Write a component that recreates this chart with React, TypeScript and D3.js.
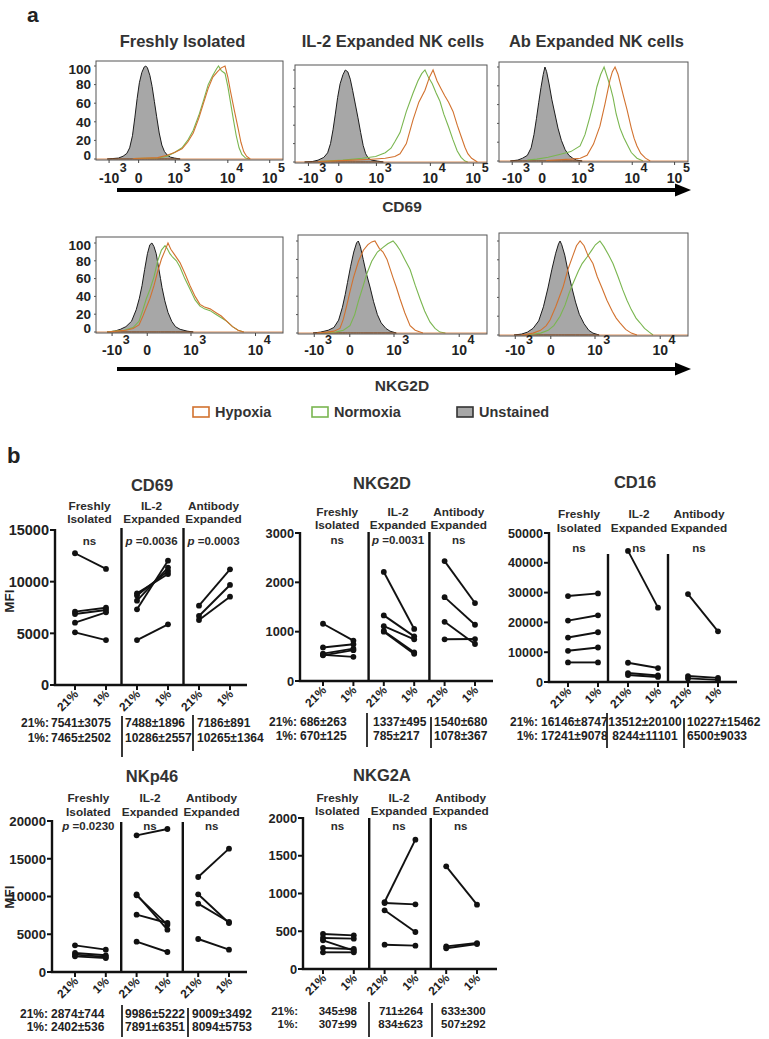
import React from 'react';
import * as d3 from 'd3';

type Pt = [number, number];
const FONT = '"Liberation Sans", Arial, Helvetica, sans-serif';

// ================= Panel a : histogram data (channel 0-1000, % of max) =================
const histColumnTitles = ['Freshly Isolated', 'IL-2 Expanded NK cells', 'Ab Expanded NK cells'];
const histRowMarkers = ['CD69', 'NKG2D'];
const histYTicks = [0, 20, 40, 60, 80, 100];
const cd69AxisBases = ['-10', '0', '10', '10', '10'];
const cd69AxisExps = ['3', '', '3', '4', '5'];
const cd69AxisChannels = [70, 228, 424, 705, 929];
const nkg2dAxisBases = ['-10', '0', '10', '10'];
const nkg2dAxisExps = ['3', '', '3', '4'];
const nkg2dAxisChannels = [86, 274, 508, 853];
const legendLabels = ['Hypoxia', 'Normoxia', 'Unstained'];

const cd69FreshUnstained: Pt[] = [[60,0],[90,0.5],[120,1],[145,3],[165,6],[180,12],[195,25],[208,45],[220,65],[232,82],[245,93],[258,99],[266,100],[275,98],[288,90],[300,78],[312,62],[324,46],[338,28],[352,15],[366,8],[382,4],[398,2],[420,1],[450,0]];
const cd69FreshNormoxia: Pt[] = [[200,0.5],[330,1],[380,3],[420,7],[460,12],[490,20],[520,31],[550,47],[575,63],[600,80],[625,90],[645,97],[655,100],[670,95],[690,92],[705,78],[720,60],[735,42],[750,25],[765,12],[780,5],[800,1],[820,0]];
const cd69FreshHypoxia: Pt[] = [[200,0.5],[330,1.5],[380,4],[420,7],[460,11],[490,18],[520,28],[550,44],[575,60],[600,76],[625,88],[650,94],[670,98],[690,100],[705,88],[720,72],[740,52],[760,33],[775,18],[790,8],[805,3],[825,0]];

const cd69Il2Unstained: Pt[] = [[50,0],[90,0.5],[120,2],[150,5],[170,10],[185,20],[198,35],[210,52],[222,70],[235,85],[250,95],[262,100],[275,98],[288,90],[300,78],[315,62],[328,48],[342,32],[355,18],[368,9],[382,4],[400,2],[430,1],[460,0]];
const cd69Il2Normoxia: Pt[] = [[120,0.5],[250,2],[350,4],[420,6],[470,10],[500,15],[520,22],[547,32],[580,55],[615,75],[640,88],[660,96],[677,100],[695,92],[715,85],[735,75],[755,66],[775,52],[800,38],[823,24],[845,12],[865,5],[885,1],[900,0]];
const cd69Il2Hypoxia: Pt[] = [[120,0.5],[300,2],[400,3],[470,4],[520,6],[547,9],[580,20],[615,46],[645,65],[677,78],[700,92],[719,100],[740,88],[760,80],[780,72],[800,65],[823,55],[845,40],[865,28],[885,16],[900,9],[920,4],[950,0]];

const cd69AbUnstained: Pt[] = [[60,0],[100,1],[125,3],[150,6],[170,14],[185,28],[198,45],[210,62],[222,78],[234,92],[243,100],[252,95],[265,82],[280,65],[296,50],[312,35],[330,22],[350,12],[370,6],[390,3],[410,1],[440,0]];
const cd69AbNormoxia: Pt[] = [[150,1],[200,2],[260,4],[320,7],[380,10],[429,16],[455,28],[481,47],[500,62],[518,79],[538,92],[556,100],[575,88],[590,78],[603,68],[620,50],[640,35],[660,25],[677,18],[700,9],[730,3],[762,0]];
const cd69AbHypoxia: Pt[] = [[250,0.5],[380,2],[430,3],[466,6],[500,18],[534,37],[560,60],[587,86],[600,95],[614,100],[630,92],[645,80],[660,68],[677,55],[700,35],[715,24],[730,16],[750,8],[775,3],[800,0]];

const nkg2dFreshUnstained: Pt[] = [[60,0],[100,1],[130,3],[160,6],[190,12],[215,25],[232,38],[246,52],[260,70],[275,88],[288,98],[299,100],[310,96],[322,88],[335,72],[345,60],[353,50],[368,35],[385,22],[405,12],[425,6],[450,3],[487,1],[520,0]];
const nkg2dFreshNormoxia: Pt[] = [[60,0],[100,1],[150,2],[198,5],[230,12],[251,25],[270,38],[289,48],[310,62],[330,80],[350,92],[369,97],[380,94],[395,88],[410,84],[430,80],[449,73],[475,60],[503,48],[530,36],[556,29],[580,26],[610,24],[640,20],[670,16],[700,12],[730,6],[760,2],[790,0]];
const nkg2dFreshHypoxia: Pt[] = [[60,0],[110,1],[160,2],[198,4],[230,8],[251,18],[270,28],[289,38],[310,52],[330,68],[350,82],[370,92],[385,100],[400,93],[420,87],[449,78],[475,66],[503,52],[530,40],[556,31],[580,28],[610,26],[640,22],[670,18],[700,12],[730,6],[760,2],[790,0]];

const nkg2dIl2Unstained: Pt[] = [[80,0],[120,1],[160,3],[190,6],[215,14],[235,28],[250,42],[262,55],[278,72],[295,88],[310,98],[319,100],[330,94],[345,80],[360,66],[381,50],[400,34],[420,20],[440,11],[465,5],[487,2],[520,0]];
const nkg2dIl2Normoxia: Pt[] = [[120,0],[200,1],[240,3],[275,8],[300,20],[320,35],[340,48],[365,65],[390,78],[420,88],[450,93],[475,97],[503,100],[520,96],[540,90],[565,80],[593,69],[620,52],[646,37],[670,24],[698,12],[725,5],[751,1],[780,0]];
const nkg2dIl2Hypoxia: Pt[] = [[100,0],[150,1],[190,2],[222,5],[240,15],[258,30],[275,45],[293,60],[320,78],[346,90],[370,96],[390,99],[407,100],[430,92],[450,88],[471,80],[490,68],[503,60],[520,50],[540,37],[565,22],[593,8],[620,3],[661,0]];

const nkg2dAbUnstained: Pt[] = [[80,0],[120,1],[150,3],[180,7],[210,15],[235,30],[259,50],[280,70],[300,87],[315,97],[323,100],[332,96],[348,85],[365,68],[386,50],[405,35],[425,22],[450,12],[475,5],[497,2],[530,0]];
const nkg2dAbNormoxia: Pt[] = [[150,0],[220,2],[260,5],[290,10],[323,20],[350,32],[370,44],[392,55],[420,68],[440,76],[466,83],[490,90],[510,96],[534,100],[555,94],[580,85],[603,76],[630,62],[655,48],[677,37],[700,27],[725,18],[746,13],[770,7],[795,3],[815,0]];
const nkg2dAbHypoxia: Pt[] = [[120,0],[180,2],[220,5],[250,10],[270,16],[300,30],[339,51],[365,70],[392,85],[410,95],[429,100],[450,95],[470,85],[497,76],[520,62],[545,50],[571,37],[600,25],[620,18],[640,13],[670,6],[700,2],[730,0]];

// ================= Panel b : paired MFI data =================
const groupTitles = [['Freshly', 'Isolated'], ['IL-2', 'Expanded'], ['Antibody', 'Expanded']];
const oxygenLabels = ['21%', '1%'];

const cd69Fresh21 = [12750, 7100, 6870, 6030, 5100];
const cd69Fresh1 = [11230, 7480, 7260, 7030, 4350];
const cd69Il2_21 = [8870, 8650, 8160, 7320, 4350];
const cd69Il2_1 = [10740, 11030, 11360, 12030, 5870];
const cd69Ab21 = [7680, 6680, 6290];
const cd69Ab1 = [11190, 9680, 8550];
const cd69P = ['ns', '0.0036', '0.0003'];
const cd69Stats21 = ['7541±3075', '7488±1896', '7186±891'];
const cd69Stats1 = ['7465±2502', '10286±2557', '10265±1364'];

const nkg2dFresh21 = [1160, 680, 555, 530, 520];
const nkg2dFresh1 = [820, 745, 655, 490, 625];
const nkg2dIl2_21 = [2210, 1330, 1110, 1015, 1000];
const nkg2dIl2_1 = [1055, 905, 845, 580, 550];
const nkg2dAb21 = [2430, 1700, 1200, 845];
const nkg2dAb1 = [1580, 1140, 750, 850];
const nkg2dP = ['ns', '0.0031', 'ns'];
const nkg2dStats21 = ['686±263', '1337±495', '1540±680'];
const nkg2dStats1 = ['670±125', '785±217', '1078±367'];

const cd16Fresh21 = [28840, 20600, 14920, 10470, 6570];
const cd16Fresh1 = [29730, 22380, 16700, 11580, 6570];
const cd16Il2_21 = [43990, 6460, 3000, 2340];
const cd16Il2_1 = [24950, 4680, 2200, 1700];
const cd16Ab21 = [29500, 2000, 1200];
const cd16Ab1 = [17000, 1400, 700];
const cd16P = ['ns', 'ns', 'ns'];
const cd16Stats21 = ['16146±8747', '13512±20100', '10227±15462'];
const cd16Stats1 = ['17241±9078', '8244±11101', '6500±9033'];

const nkp46Fresh21 = [3530, 2520, 2300, 2075];
const nkp46Fresh1 = [2960, 2210, 2000, 1850];
const nkp46Il2_21 = [18100, 10290, 10150, 7590, 4020];
const nkp46Il2_1 = [18940, 5610, 6270, 6490, 2650];
const nkp46Ab21 = [12580, 10290, 9050, 4370];
const nkp46Ab1 = [16340, 6490, 6620, 2960];
const nkp46P = ['0.0230', 'ns', 'ns'];
const nkp46Stats21 = ['2874±744', '9986±5222', '9009±3492'];
const nkp46Stats1 = ['2402±536', '7891±6351', '8094±5753'];

const nkg2aFresh21 = [464, 411, 380, 278, 221];
const nkg2aFresh1 = [446, 402, 243, 265, 221];
const nkg2aIl2_21 = [887, 874, 777, 322];
const nkg2aIl2_1 = [1713, 856, 490, 309];
const nkg2aAb21 = [1360, 300, 274];
const nkg2aAb1 = [852, 344, 331];
const nkg2aP = ['ns', 'ns', 'ns'];
const nkg2aStats21 = ['345±98', '711±264', '633±300'];
const nkg2aStats1 = ['307±99', '834±623', '507±292'];

// ================= layout =================
const COL_ORANGE = '#d2722f';
const COL_GREEN = '#7ab650';
const COL_GRAY = '#a7a7a7';
const TXT = '#2b2b2b';

const topBoxes = [
  { x0: 96, x1: 283, y0: 61, y1: 160, yTop: 66, yBase: 159 },
  { x0: 295, x1: 487, y0: 65, y1: 163, yTop: 70, yBase: 162 },
  { x0: 499, x1: 688, y0: 62, y1: 162, yTop: 67, yBase: 161 },
];
const bottomBoxes = [
  { x0: 96, x1: 283, y0: 237, y1: 333, yTop: 243, yBase: 332 },
  { x0: 298, x1: 487, y0: 235, y1: 334, yTop: 241, yBase: 333 },
  { x0: 499, x1: 688, y0: 233, y1: 336, yTop: 241, yBase: 335 },
];

type Box = typeof topBoxes[number];

function HistBox({ box, unst, norm, hyp, showY, bases, exps, channels, labY, expY, id }: {
  box: Box; unst: Pt[]; norm: Pt[]; hyp: Pt[]; showY: boolean; bases: string[]; exps: string[]; channels: number[]; labY: number; expY: number; id: string;
}) {
  const x = d3.scaleLinear().domain([0, 1000]).range([box.x0, box.x1]);
  const y = d3.scaleLinear().domain([0, 100]).range([box.yBase, box.yTop]);
  const area = d3.area<Pt>().x(d => x(d[0])).y0(y(0)).y1(d => y(d[1]));
  const line = d3.line<Pt>().x(d => x(d[0])).y(d => y(d[1]));
  return (
    <g>
      <defs>
        <clipPath id={id}><rect x={box.x0} y={box.y0} width={box.x1 - box.x0} height={box.y1 - box.y0} /></clipPath>
      </defs>
      <g clipPath={`url(#${id})`}>
        <path d={area(unst) || ''} fill={COL_GRAY} stroke="#1c1c1c" strokeWidth={1} />
        <path d={line(norm) || ''} fill="none" stroke={COL_GREEN} strokeWidth={1.1} />
        <path d={line(hyp) || ''} fill="none" stroke={COL_ORANGE} strokeWidth={1.1} />
        <line x1={box.x0} x2={box.x1} y1={y(0)} y2={y(0)} stroke={COL_ORANGE} strokeWidth={0.8} />
      </g>
      <rect x={box.x0} y={box.y0} width={box.x1 - box.x0} height={box.y1 - box.y0} fill="none" stroke="#555" strokeWidth={1} />
      {histYTicks.map(t => (
        <line key={t} x1={box.x0 - 2} x2={box.x0} y1={y(t)} y2={y(t)} stroke="#555" strokeWidth={1} />
      ))}
      {showY && histYTicks.map(t => (
        <text key={'l' + t} x={box.x0 - 5} y={Math.min(Math.max(y(t), box.y0 + 8), box.y1 - 5)} dy="0.36em" textAnchor="end"
          fontSize={13.5} fontWeight="bold" fill="#222">{t}</text>
      ))}
      {channels.map((c, i) => {
        const w = bases[i].length * 7.8 - (bases[i].startsWith('-') ? 3 : 0);
        return (
          <g key={'x' + i}>
            <line x1={x(c)} x2={x(c)} y1={box.y1} y2={box.y1 + 3} stroke="#444" strokeWidth={1} />
            <text x={x(c)} y={labY} textAnchor="middle" fontSize={14} fontWeight="bold" fill="#222">{bases[i]}</text>
            {exps[i] && <text x={x(c) + w / 2 + 0.5} y={expY} fontSize={12.5} fontWeight="bold" fill="#222">{exps[i]}</text>}
          </g>
        );
      })}
    </g>
  );
}

function Arrow({ x0, x1, y }: { x0: number; x1: number; y: number }) {
  return (
    <g>
      <line x1={x0} x2={x1 - 14} y1={y} y2={y} stroke="#000" strokeWidth={4} />
      <polygon points={`${x1 - 16},${y - 6.5} ${x1},${y} ${x1 - 16},${y + 6.5}`} fill="#000" />
    </g>
  );
}

// ----- panel b config -----
type Stats = { labelRight: number; rows: number[]; cols: [number, string][]; divs: [number, number, number][]; font: number };
type Layout = {
  left: number; right: number; top: number; bottom: number; p0: number; p5: number;
  titleX: number; titleY: number; subY: number[]; pY: number; divTop: number; divDx: number; labelDx: number;
  tickFont: number; mfiY?: number; stats: Stats;
};
type Chart = { title: string; yMax: number; yStep: number; groups: number[][][]; pLabels: string[]; s21: string[]; s1: string[]; layout: Layout };

const charts: Chart[] = [
  {
    title: 'CD69', yMax: 15000, yStep: 5000,
    groups: [[cd69Fresh21, cd69Fresh1], [cd69Il2_21, cd69Il2_1], [cd69Ab21, cd69Ab1]],
    pLabels: cd69P, s21: cd69Stats21, s1: cd69Stats1,
    layout: {
      left: 55, right: 247, top: 530, bottom: 685, p0: 75, p5: 230, titleX: 152, titleY: 485, subY: [506, 519], pY: 541,
      divTop: 528, divDx: 0, labelDx: -1, tickFont: 14.5, mfiY: 601,
      stats: { labelRight: 49, rows: [723, 738], cols: [[51, 'start'], [125, 'start'], [197, 'start']], divs: [[122, 716, 757], [193, 715, 751]], font: 12 },
    },
  },
  {
    title: 'NKG2D', yMax: 3000, yStep: 1000,
    groups: [[nkg2dFresh21, nkg2dFresh1], [nkg2dIl2_21, nkg2dIl2_1], [nkg2dAb21, nkg2dAb1]],
    pLabels: nkg2dP, s21: nkg2dStats21, s1: nkg2dStats1,
    layout: {
      left: 300, right: 493, top: 533, bottom: 681, p0: 323, p5: 475, titleX: 382, titleY: 483, subY: [512, 525], pY: 540,
      divTop: 532, divDx: 0, labelDx: -1, tickFont: 12.8,
      stats: { labelRight: 297, rows: [722, 736], cols: [[300, 'start'], [373, 'start'], [434, 'start']], divs: [[367, 713, 747], [431, 717, 748]], font: 12 },
    },
  },
  {
    title: 'CD16', yMax: 50000, yStep: 10000,
    groups: [[cd16Fresh21, cd16Fresh1], [cd16Il2_21, cd16Il2_1], [cd16Ab21, cd16Ab1]],
    pLabels: cd16P, s21: cd16Stats21, s1: cd16Stats1,
    layout: {
      left: 549, right: 737, top: 533, bottom: 682, p0: 568, p5: 718, titleX: 635, titleY: 482, subY: [514, 528], pY: 548,
      divTop: 554, divDx: -5, labelDx: -4, tickFont: 12.6,
      stats: { labelRight: 538, rows: [722, 736], cols: [[541, 'start'], [645, 'middle'], [687, 'start']], divs: [[607, 713, 748], [684, 718, 748]], font: 12 },
    },
  },
  {
    title: 'NKp46', yMax: 20000, yStep: 5000,
    groups: [[nkp46Fresh21, nkp46Fresh1], [nkp46Il2_21, nkp46Il2_1], [nkp46Ab21, nkp46Ab1]],
    pLabels: nkp46P, s21: nkp46Stats21, s1: nkp46Stats1,
    layout: {
      left: 52, right: 247, top: 821, bottom: 972, p0: 75, p5: 229, titleX: 152, titleY: 776, subY: [798, 812], pY: 826,
      divTop: 822, divDx: 0, labelDx: -2, tickFont: 13.2, mfiY: 897,
      stats: { labelRight: 48, rows: [1014, 1027], cols: [[51, 'start'], [185, 'end'], [192, 'start']], divs: [[122, 1005, 1037], [188, 1008, 1037]], font: 12 },
    },
  },
  {
    title: 'NKG2A', yMax: 2000, yStep: 500,
    groups: [[nkg2aFresh21, nkg2aFresh1], [nkg2aIl2_21, nkg2aIl2_1], [nkg2aAb21, nkg2aAb1]],
    pLabels: nkg2aP, s21: nkg2aStats21, s1: nkg2aStats1,
    layout: {
      left: 303, right: 497, top: 818, bottom: 969, p0: 323, p5: 477, titleX: 382, titleY: 775, subY: [798, 811], pY: 826,
      divTop: 818, divDx: 0, labelDx: -1, tickFont: 12.8,
      stats: { labelRight: 298, rows: [1011, 1024], cols: [[357, 'end'], [423, 'end'], [441, 'start']], divs: [[369, 1002, 1037], [432, 1003, 1037]], font: 11.5 },
    },
  },
];

function PairChart({ c }: { c: Chart }) {
  const L = c.layout;
  const y = d3.scaleLinear().domain([0, c.yMax]).range([L.bottom, L.top]);
  const keys = [0, 1, 2].flatMap(g => oxygenLabels.map(o => `${g}-${o}`));
  const x = d3.scalePoint<string>().domain(keys).range([L.p0, L.p5]);
  const ticks = d3.range(0, c.yMax + 1, c.yStep);
  const line = d3.line<[number, number]>().x(d => d[0]).y(d => d[1]);
  const gx = (g: number, o: number) => x(`${g}-${oxygenLabels[o]}`) as number;
  const gc = (g: number) => (gx(g, 0) + gx(g, 1)) / 2;
  return (
    <g>
      <text x={L.titleX} y={L.titleY} dy="0.36em" textAnchor="middle" fontSize={16.5} fontWeight="bold" fill="#333">{c.title}</text>
      {groupTitles.map((gt, g) => (
        <g key={'gt' + g}>
          {gt.map((s, i) => (
            <text key={i} x={gc(g) + L.labelDx} y={L.subY[i]} dy="0.36em" textAnchor="middle" fontSize={11.8} fontWeight="bold" fill={TXT}>{s}</text>
          ))}
          <text x={gc(g) + L.labelDx} y={L.pY} dy="0.36em" textAnchor="middle" fontSize={11.5} fontWeight="bold" fill={TXT}>
            {c.pLabels[g] === 'ns' ? 'ns' : (<><tspan fontStyle="italic">p</tspan> ={c.pLabels[g]}</>)}
          </text>
        </g>
      ))}
      {/* axes */}
      <line x1={L.left} x2={L.left} y1={L.top - 1} y2={L.bottom} stroke="#111" strokeWidth={2.4} />
      <line x1={L.left - 1.2} x2={L.right} y1={L.bottom} y2={L.bottom} stroke="#111" strokeWidth={2.4} />
      {ticks.map(t => (
        <g key={'yt' + t}>
          <line x1={L.left - 5} x2={L.left} y1={y(t)} y2={y(t)} stroke="#111" strokeWidth={2} />
          <text x={L.left - 6} y={y(t)} dy="0.36em" textAnchor="end" fontSize={L.tickFont} fontWeight="bold" fill="#222">{t}</text>
        </g>
      ))}
      {L.mfiY !== undefined && (
        <text transform={`translate(9,${L.mfiY}) rotate(-90)`} dy="0.36em" textAnchor="middle" fontSize={13.5} fontWeight="bold" fill="#222">MFI</text>
      )}
      {[0, 1].map(i => {
        const dx = (gx(i, 1) + gx(i + 1, 0)) / 2 + L.divDx;
        return <line key={'dv' + i} x1={dx} x2={dx} y1={L.divTop} y2={L.bottom} stroke="#111" strokeWidth={2.4} />;
      })}
      {keys.map(k => (
        <g key={'xt' + k}>
          <line x1={x(k)} x2={x(k)} y1={L.bottom} y2={L.bottom + 5} stroke="#111" strokeWidth={2} />
          <text transform={`translate(${(x(k) as number) + 4},${L.bottom + 10}) rotate(-45)`} textAnchor="end" fontSize={12} fontWeight="bold" fill="#222">{k.split('-')[1]}</text>
        </g>
      ))}
      {/* paired lines */}
      {c.groups.map((grp, g) => (
        <g key={'grp' + g}>
          {grp[0].map((v, i) => {
            const p1: [number, number] = [gx(g, 0), y(v)];
            const p2: [number, number] = [gx(g, 1), y(grp[1][i])];
            return (
              <g key={i}>
                <path d={line([p1, p2]) || ''} stroke="#111" strokeWidth={1.9} fill="none" />
                <circle cx={p1[0]} cy={p1[1]} r={2.9} fill="#111" />
                <circle cx={p2[0]} cy={p2[1]} r={2.9} fill="#111" />
              </g>
            );
          })}
        </g>
      ))}
      {/* stats */}
      {[c.s21, c.s1].map((row, r) => (
        <g key={'st' + r}>
          <text x={L.stats.labelRight} y={L.stats.rows[r]} dy="0.36em" textAnchor="end" fontSize={L.stats.font} fontWeight="bold" fill="#222">{oxygenLabels[r] + ':'}</text>
          {row.map((s, i) => (
            <text key={i} x={L.stats.cols[i][0]} y={L.stats.rows[r]} dy="0.36em" textAnchor={L.stats.cols[i][1] as any} fontSize={L.stats.font} fontWeight="bold" fill="#222">{s}</text>
          ))}
        </g>
      ))}
      {L.stats.divs.map((d, i) => (
        <line key={'sd' + i} x1={d[0]} x2={d[0]} y1={d[1]} y2={d[2]} stroke="#222" strokeWidth={1.8} />
      ))}
    </g>
  );
}

export default function App() {
  const topSeries = [
    [cd69FreshUnstained, cd69FreshNormoxia, cd69FreshHypoxia],
    [cd69Il2Unstained, cd69Il2Normoxia, cd69Il2Hypoxia],
    [cd69AbUnstained, cd69AbNormoxia, cd69AbHypoxia],
  ];
  const bottomSeries = [
    [nkg2dFreshUnstained, nkg2dFreshNormoxia, nkg2dFreshHypoxia],
    [nkg2dIl2Unstained, nkg2dIl2Normoxia, nkg2dIl2Hypoxia],
    [nkg2dAbUnstained, nkg2dAbNormoxia, nkg2dAbHypoxia],
  ];
  const titleX = [182.5, 393, 596.5];
  const legendX = [193, 312, 457];
  const legendFill = ['#fff', '#fff', COL_GRAY];
  const legendStroke = [COL_ORANGE, COL_GREEN, '#333'];
  return (
    <svg width={769} height={1039} style={{ position: 'absolute', left: 0, top: 0, background: '#fff' }} fontFamily={FONT}>
      <rect width={769} height={1039} fill="#fff" />
      <text x={27} y={14} dy="0.36em" fontSize={21} fontWeight="bold" fill="#222">a</text>
      {histColumnTitles.map((t, i) => (
        <text key={t} x={titleX[i]} y={41} dy="0.36em" textAnchor="middle" fontSize={16.5} fontWeight="bold" fill="#333">{t}</text>
      ))}
      {topBoxes.map((b, i) => (
        <HistBox key={'t' + i} id={'ct' + i} box={b} unst={topSeries[i][0]} norm={topSeries[i][1]} hyp={topSeries[i][2]}
          showY={i === 0} bases={cd69AxisBases} exps={cd69AxisExps} channels={cd69AxisChannels} labY={183} expY={172} />
      ))}
      <Arrow x0={117} x1={691} y={190} />
      <text x={402} y={206} dy="0.36em" textAnchor="middle" fontSize={15.5} fontWeight="bold" fill="#333">{histRowMarkers[0]}</text>
      {bottomBoxes.map((b, i) => (
        <HistBox key={'b' + i} id={'cb' + i} box={b} unst={bottomSeries[i][0]} norm={bottomSeries[i][1]} hyp={bottomSeries[i][2]}
          showY={i === 0} bases={nkg2dAxisBases} exps={nkg2dAxisExps} channels={nkg2dAxisChannels} labY={355} expY={344} />
      ))}
      <Arrow x0={117} x1={691} y={369} />
      <text x={402} y={385} dy="0.36em" textAnchor="middle" fontSize={15.5} fontWeight="bold" fill="#333">{histRowMarkers[1]}</text>
      {legendLabels.map((l, i) => (
        <g key={l}>
          <rect x={legendX[i]} y={407} width={16} height={10} fill={legendFill[i]} stroke={legendStroke[i]} strokeWidth={1.6} />
          <text x={legendX[i] + 22} y={412} dy="0.36em" fontSize={14.5} fontWeight="bold" fill="#333">{l}</text>
        </g>
      ))}

      <text x={7} y={455} dy="0.36em" fontSize={22} fontWeight="bold" fill="#222">b</text>
      {charts.map(c => <PairChart key={c.title} c={c} />)}
    </svg>
  );
}
